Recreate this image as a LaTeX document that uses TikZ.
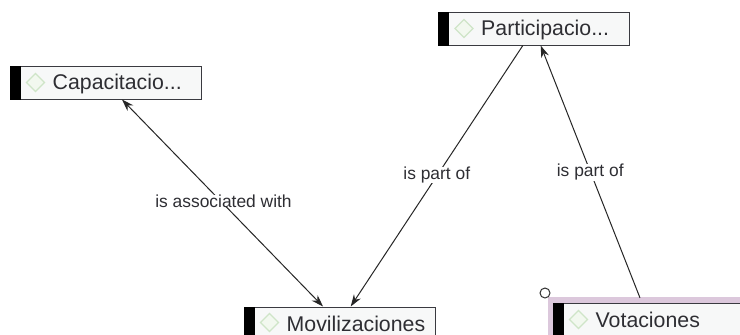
\documentclass[tikz,border=0pt]{standalone}
\usepackage{fontspec}
\setmainfont{Liberation Sans}
\usetikzlibrary{arrows.meta,calc}
\definecolor{inktext}{HTML}{2E2E33}
\definecolor{boxfill}{HTML}{F7F8F8}
\definecolor{boxline}{HTML}{3A3A40}
\definecolor{diamondc}{HTML}{CFE5C8}
\definecolor{diamondf}{HTML}{F2F8EF}
\definecolor{selpink}{HTML}{DCC8DC}
\tikzset{
  x=1pt,y=-1pt,
  codebox/.style={draw=boxline,line width=1pt,fill=boxfill,minimum width=191pt,minimum height=33pt,inner sep=0pt},
  blackbar/.style={fill=black,draw=none},
  gem/.style={draw=diamondc,line width=1.4pt,fill=diamondf},
  codename/.style={font=\fontsize{21.3}{24}\selectfont,text=inktext,anchor=west,inner sep=0pt},
  rel/.style={font=\fontsize{17.4}{20}\selectfont,text=inktext,fill=white,inner xsep=0pt,inner ysep=0pt},
  linkline/.style={draw=black!85,line width=1pt},
  onetip/.style={-{Stealth[length=12pt,width=8pt]}},
  twotips/.style={{Stealth[length=12pt,width=8pt]}-{Stealth[length=12pt,width=8pt]}},
}
\newcommand{\gemat}[1]{\draw[gem] ($(#1)+(-9,0)$) -- ($(#1)+(0,-9)$) -- ($(#1)+(9,0)$) -- ($(#1)+(0,9)$) -- cycle;}
\begin{document}
\begin{tikzpicture}
\useasboundingbox (0,0) rectangle (740,335);
\clip (0,0) rectangle (740,335);
\fill[white] (0,0) rectangle (740,335);
% selection halo
\fill[selpink] (548,297) rectangle (760,345);
% boxes
\node[codebox] (cap) at (105.5,82.5) {};
\node[codebox] (par) at (534,28.5) {};
\node[codebox] (mov) at (339.5,323.5) {};
\node[codebox] (vot) at (648.5,319.5) {};
\fill[blackbar] (cap.north west) rectangle ($(cap.south west)+(11,0)$);
\fill[blackbar] (par.north west) rectangle ($(par.south west)+(11,0)$);
\fill[blackbar] (mov.north west) rectangle ($(mov.south west)+(11,0)$);
\fill[blackbar] (vot.north west) rectangle ($(vot.south west)+(11,0)$);
\gemat{$(cap.west)+(26,0)$}
\gemat{$(par.west)+(26,0)$}
\gemat{$(mov.west)+(26,-1)$}
\gemat{$(vot.west)+(26,0)$}
\node[codename] (capt) at ($(cap.west)+(43,1.5)$) {Capacitacio...};
\node[codename] (part) at ($(par.west)+(43,1.5)$) {Participacio...};
\node[codename] (movt) at ($(mov.west)+(43,0.5)$) {Movilizaciones};
\node[codename] (vott) at ($(vot.west)+(43,0)$) {Votaciones};
% handle
\node[draw=black!80,line width=1pt,circle,minimum size=10pt,inner sep=0pt,fill=white] (hnd) at (545,293) {};
% connectors
\draw[linkline,twotips] (cap) -- node[rel,pos=0.505,yshift=3pt] {is associated with} (mov);
\draw[linkline,onetip] (par) -- node[rel,pos=0.5,yshift=1pt] {is part of} (mov);
\draw[linkline,onetip,shorten <=5pt] (vot) -- node[rel,pos=0.51,yshift=-1pt] {is part of} (par);
\end{tikzpicture}
\end{document}
